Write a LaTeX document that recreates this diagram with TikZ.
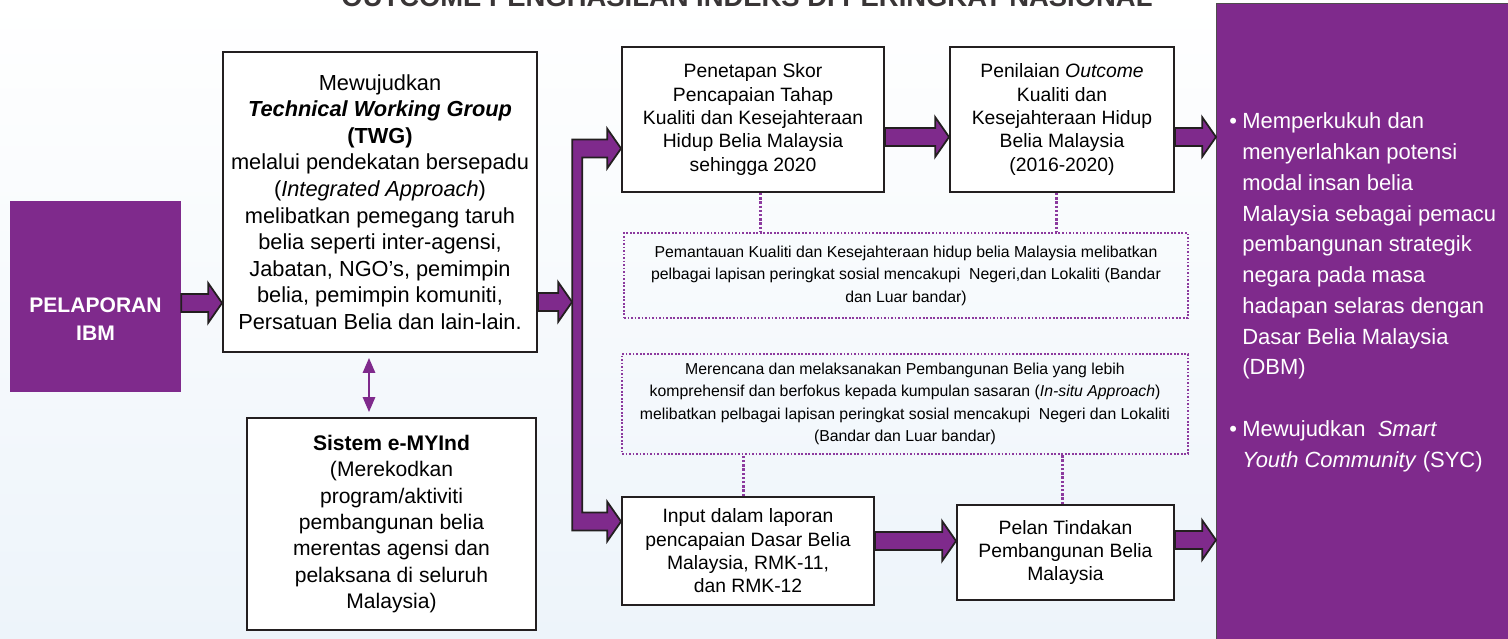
\documentclass[tikz,border=0pt]{standalone}
\usepackage{fontspec}
\setmainfont{Liberation Sans}
\usetikzlibrary{arrows.meta, calc}
\definecolor{ink}{HTML}{231F20}
\definecolor{plum}{HTML}{7F2A8C}
\definecolor{orchid}{HTML}{8C3A9E}
\definecolor{wash}{HTML}{EDF4FA}
\tikzset{
  ibbase/.style = {draw=ink, line width=1.1pt, fill=white, align=center, inner sep=0pt,
                   font=\fontsize{11}{13.3}\selectfont},
  ibbig/.style  = {ibbase, font=\fontsize{12.4}{15.1}\selectfont},
  ibsys/.style  = {ibbase, font=\fontsize{12}{15}\selectfont},
  ibhead/.style = {fill=plum, inner sep=0pt},
  ibheadtxt/.style = {text=white, align=center, font=\bfseries\fontsize{12}{15.7}\selectfont},
  ibout/.style  = {fill=plum, draw=ink!80, line width=0.8pt, inner sep=0pt},
  ibouttxt/.style = {text=white, inner sep=0pt, anchor=north west, font=\fontsize{12.5}{17.5}\selectfont},
  ibnote/.style = {draw=orchid, line width=1pt, dash pattern=on 1pt off 1pt, align=center,
                   inner sep=0pt, font=\fontsize{9}{12.8}\selectfont},
  ibtie/.style  = {draw=orchid, line width=1.7pt, dash pattern=on 1.4pt off 1pt},
  ibfat/.style  = {fill=plum, draw=ink, line width=1pt, line join=miter},
  ibduo/.style  = {{Triangle[length=8.5pt,width=7pt]}-{Triangle[length=8.5pt,width=7pt]},
                   draw=plum, line width=1.1pt},
  ibtitle/.style = {font=\bfseries\fontsize{15.6}{18}\selectfont, text=ink!90, anchor=base},
}
\newcommand{\fatarrow}[2]{%
  \filldraw[ibfat] let \p1=(#1), \p2=(#2) in
    (\x1,\y1+5.1pt) -- (\x2-7.9pt,\y1+5.1pt) -- (\x2-7.9pt,\y1+11.3pt) -- (\x2,\y1)
    -- (\x2-7.9pt,\y1-11.3pt) -- (\x2-7.9pt,\y1-5.1pt) -- (\x1,\y1-5.1pt) -- cycle;}

\begin{document}
\begin{tikzpicture}[x=0.02cm, y=-0.02cm]

\useasboundingbox (0,0) rectangle (1508,639);
\fill[top color=white, bottom color=wash] (0,0) rectangle (1508,639);

\node[ibtitle] (title) at (747,7) {OUTCOME PENGHASILAN INDEKS DI PERINGKAT NASIONAL};

\node[ibhead, minimum width=3.42cm, minimum height=3.82cm] (ibm) at (95.5,296.5) {};
\node[ibheadtxt] (ibmtxt) at (95.5,319) {PELAPORAN\\IBM};

\node[ibbig, minimum width=6.28cm, minimum height=6cm] (twg) at (380,202)
  {Mewujudkan\\
   \textbf{\textit{Technical Working Group}}\\
   \textbf{(TWG)}\\
   melalui pendekatan bersepadu\\
   (\textit{Integrated Approach})\\
   melibatkan pemegang taruh\\
   belia seperti inter-agensi,\\
   Jabatan, NGO’s, pemimpin\\
   belia, pemimpin komuniti,\\
   Persatuan Belia dan lain-lain.};

\node[ibsys, minimum width=5.78cm, minimum height=4.24cm] (sys) at (391.5,524)
  {\textbf{Sistem e-MYInd}\\
   (Merekodkan\\
   program/aktiviti\\
   pembangunan belia\\
   merentas agensi dan\\
   pelaksana di seluruh\\
   Malaysia)};

\node[ibbase, minimum width=5.24cm, minimum height=2.9cm] (pen) at (753,119.5)
  {Penetapan Skor\\ Pencapaian Tahap\\ Kualiti dan Kesejahteraan\\ Hidup Belia Malaysia\\ sehingga 2020};
\node[ibbase, minimum width=4.48cm, minimum height=2.9cm] (nil) at (1062,119.5)
  {Penilaian \textit{Outcome}\\ Kualiti dan\\ Kesejahteraan Hidup\\ Belia Malaysia\\ (2016-2020)};

\node[ibnote, minimum width=11.28cm, minimum height=1.7cm] (mon) at (906,275.5)
  {Pemantauan Kualiti dan Kesejahteraan hidup belia Malaysia melibatkan\\
   pelbagai lapisan peringkat sosial mencakupi\ \ Negeri,dan Lokaliti (Bandar\\
   dan Luar bandar)};
\node[ibnote, minimum width=11.32cm, minimum height=2cm] (plan) at (905,404)
  {Merencana dan melaksanakan Pembangunan Belia yang lebih\\
   komprehensif dan berfokus kepada kumpulan sasaran (\textit{In-situ Approach})\\
   melibatkan pelbagai lapisan peringkat sosial mencakupi\ \ Negeri dan Lokaliti\\
   (Bandar dan Luar bandar)};

\node[ibbase, minimum width=5.04cm, minimum height=2.16cm] (inp) at (748,551)
  {Input dalam laporan\\ pencapaian Dasar Belia\\ Malaysia, RMK-11,\\ dan RMK-12};
\node[ibbase, minimum width=4.34cm, minimum height=1.9cm] (pelan) at (1065.5,552.5)
  {Pelan Tindakan\\ Pembangunan Belia\\ Malaysia};

\node[ibout, minimum width=6.08cm, minimum height=12.94cm, anchor=north west] (out) at (1216,3) {};
\node[ibouttxt] (outtxt) at (1229,107)
  {\begin{tabular}{@{}l@{\hspace{3pt}}l@{}}
   \textbullet & Memperkukuh dan\\
               & menyerlahkan potensi\\
               & modal insan belia\\
               & Malaysia sebagai pemacu\\
               & pembangunan strategik\\
               & negara pada masa\\
               & hadapan selaras dengan\\
               & Dasar Belia Malaysia\\
               & (DBM)\\
               & \\
   \textbullet & Mewujudkan\ \ \textit{Smart}\\
               & \textit{Youth Community}\ (SYC)
   \end{tabular}};

\coordinate (bus) at ($(pen.west)+(-49,0)$);

\fatarrow{[yshift=-0.13cm]ibm.east}{twg.west}
\fatarrow{[yshift=-2cm]twg.east}{bus}
\filldraw[ibfat] let \p1=([yshift=-0.58cm]pen.west), \p2=([yshift=0.59cm]inp.west) in
  (\x1-27.8pt,\y1+5.1pt) -- (\x1-7.9pt,\y1+5.1pt) -- (\x1-7.9pt,\y1+11.3pt) -- (\x1,\y1)
  -- (\x1-7.9pt,\y1-11.3pt) -- (\x1-7.9pt,\y1-5.1pt) -- (\x1-22.1pt,\y1-5.1pt)
  -- (\x2-22.1pt,\y2+5.1pt) -- (\x2-7.9pt,\y2+5.1pt) -- (\x2-7.9pt,\y2+11.3pt) -- (\x2,\y2)
  -- (\x2-7.9pt,\y2-11.3pt) -- (\x2-7.9pt,\y2-5.1pt) -- (\x2-27.8pt,\y2-5.1pt) -- cycle;
\fatarrow{[yshift=-0.35cm]pen.east}{nil.west}
\fatarrow{[yshift=-0.35cm]nil.east}{out.west}
\fatarrow{[yshift=0.2cm]inp.east}{pelan.west}
\fatarrow{[yshift=0.25cm]pelan.east}{out.west}

\draw[ibduo] ($(twg.south)+(-11,5)$) -- ($(twg.south |- sys.north)+(-11,-5)$);

\draw[ibtie] ([xshift=0.14cm]pen.south) -- ([xshift=0.14cm]pen.south |- mon.north);
\draw[ibtie] ([xshift=-0.12cm]nil.south) -- ([xshift=-0.12cm]nil.south |- mon.north);
\draw[ibtie] ([xshift=-0.1cm]inp.north) -- ([xshift=-0.1cm]inp.north |- plan.south);
\draw[ibtie] ([xshift=-0.07cm]pelan.north) -- ([xshift=-0.07cm]pelan.north |- plan.south);
\end{tikzpicture}
\end{document}
